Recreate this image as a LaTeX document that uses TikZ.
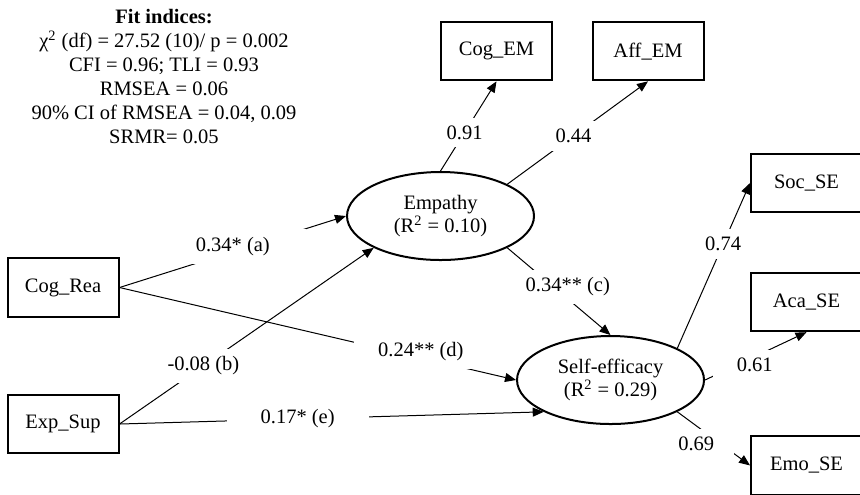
\documentclass[tikz,border=0pt]{standalone}
\usepackage{fontspec}
\setmainfont{Liberation Serif}
\usepackage{tikz}
\usetikzlibrary{arrows.meta}
\usetikzlibrary{positioning}
\usetikzlibrary{shapes.geometric}

\tikzset{
  observada/.style={draw, line width=1pt, minimum width=55.5pt, minimum height=29.25pt},
  latente/.style={draw, ellipse, line width=1pt, minimum width=93.5pt, minimum height=44pt,
    align=center, font=\fontsize{10.25}{11.5}\selectfont},
  flecha/.style={line width=0.5pt, -{Triangle[length=5.5pt,width=4.5pt]}},
  coef/.style={fill=white, inner xsep=12pt, inner ysep=4pt}
}

\begin{document}
\begin{tikzpicture}[x=0.5pt, y=-0.5pt, every node/.style={font=\fontsize{10.25}{12}\selectfont}]

\useasboundingbox (0,0) rectangle (860,494);

% Nodos
\node [align=center] at (164,77) (n1) {\textbf{Fit indices:} \\ χ\textsuperscript{2} (df) = 27.52 (10)/ p = 0.002 \\ CFI = 0.96; TLI = 0.93 \\ RMSEA = 0.06 \\ 90\% CI of RMSEA = 0.04, 0.09 \\ SRMR= 0.05};

\node [observada, below of=n1, xshift=-50.5pt, yshift=-76.8pt] (n2) {Cog\_Rea};
\node [observada, below of=n2, yshift=-39.8pt] (n3) {Exp\_Sup};

\node [latente, right of=n2, xshift=160.3pt, yshift=35.75pt] (n4) {Empathy \\ (R\textsuperscript{2} = 0.10)};
\node [latente, right of=n4, xshift=56.55pt, yshift=-82pt] (n5) {Self-efficacy \\ (R\textsuperscript{2} = 0.29)};

\node [observada, above of=n4, xshift=28pt, yshift=54pt] (n6) {Cog\_EM};
\node [observada, right of=n6, xshift=47.3pt] (n7) {Aff\_EM};

\node [observada, right of=n5, xshift=69.55pt, yshift=98.5pt] (n8) {Soc\_SE};
\node [observada, below of=n8, yshift=-31pt] (n9) {Aca\_SE};
\node [observada, below of=n9, yshift=-53.3pt] (n10) {Emo\_SE};

% Conexiones
\draw[flecha] (n2.east) -- node[coef, pos=0.5, yshift=2.5pt, inner xsep=18pt] {0.34* (a)} (n4.west);
\draw[flecha] (n2.east) -- node[coef, pos=0.76, yshift=3pt] {0.24** (d)} (n5.west);
\draw[flecha] (n3.east) -- node[coef, pos=0.33] {-0.08 (b)} (n4.south west);
\draw[flecha] (n3.east) -- node[coef, pos=0.42, inner xsep=17pt] {0.17* (e)} (n5.south west);
\draw[flecha] (n4.south east) -- node[coef, pos=0.45, xshift=7pt] {0.34** (c)} (n5.north);

\draw[flecha] (n4.north) -- node[coef, pos=0.43] {0.91} (n6.south);
\draw[flecha] (n4.north east) -- node[coef, pos=0.47] {0.44} (n7.south);

\draw[flecha] (n5.north east) -- node[coef, pos=0.63] {0.74} (n8.west);
\draw[flecha] (n5.east) -- node[coef, pos=0.49, yshift=-4pt] {0.61} (n9.south);
\draw[flecha] (n5.south east) -- node[coef, pos=0.26, yshift=-9pt, inner xsep=10pt] {0.69} (n10.west);

\end{tikzpicture}
\end{document}
